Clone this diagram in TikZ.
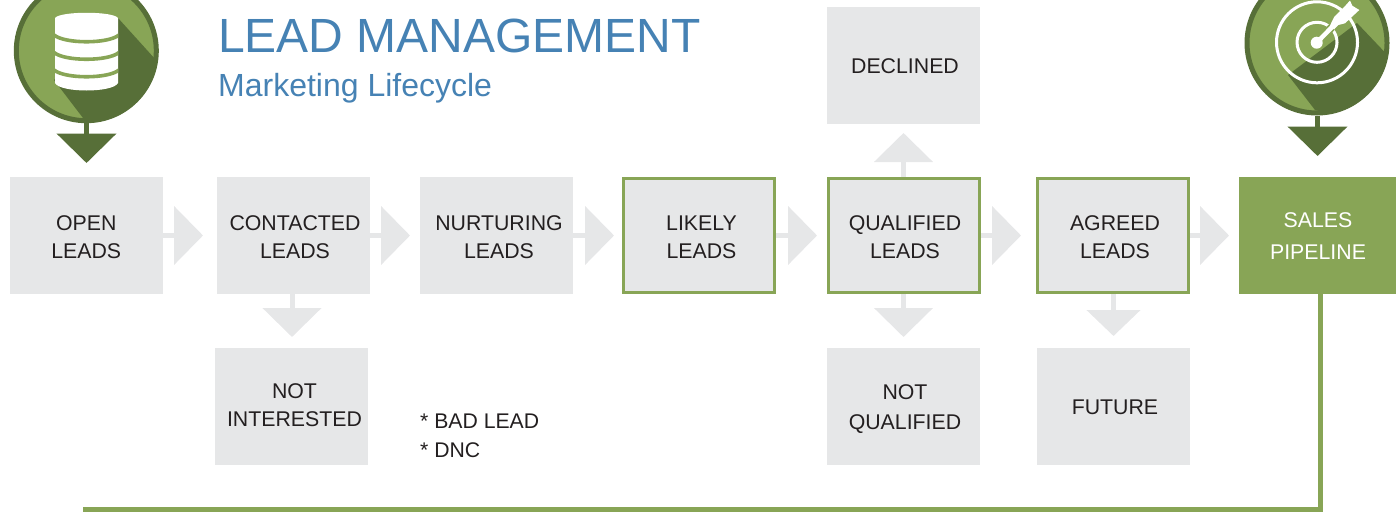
\documentclass[tikz,border=0pt]{standalone}
\usepackage{fontspec}
\setmainfont{Liberation Sans}
\usetikzlibrary{arrows.meta}
\definecolor{grn}{HTML}{88A556}
\definecolor{dgrn}{HTML}{576F38}
\definecolor{boxg}{HTML}{E6E7E8}
\definecolor{ink}{HTML}{231F20}
\definecolor{ttl}{HTML}{4682B4}
% #1 = horizontal shift of the text (doubled because the box is centred), #2 = raise, #3 = lines
\newcommand\lbl[3]{\raisebox{#2}[0pt][0pt]{\makebox[0pt]{\hspace*{#1}\hspace*{#1}\fontsize{21.3}{28}\selectfont\begin{tabular}{@{}c@{}}#3\end{tabular}}}}
\tikzset{
  leadbox/.style={rectangle,fill=boxg,text=ink,minimum width=153pt,minimum height=117pt,inner sep=0pt,outer sep=0pt},
  greenbox/.style={leadbox,draw=grn,line width=2.8pt,minimum width=151.2pt,minimum height=114.2pt,outer sep=1.4pt},
  salesbox/.style={leadbox,fill=grn,text=white},
  flowarrow/.style={draw=boxg,line width=5pt,-{Triangle[length=29pt,width=58pt,color=boxg]}},
  smallarrow/.style={draw=boxg,line width=5pt,-{Triangle[length=26pt,width=53pt,color=boxg]}},
  iconarrow/.style={draw=dgrn,line width=5pt,-{Triangle[length=29.5pt,width=59pt,color=dgrn]}},
  badge/.style={circle,draw=dgrn,fill=grn,line width=5pt,minimum size=140pt,inner sep=0pt,outer sep=2.5pt},
  pipeline/.style={draw=grn,line width=5pt,line join=miter},
  title/.style={text=ttl,anchor=base west,inner sep=0pt}
}
\begin{document}
\begin{tikzpicture}[x=1pt,y=-1pt]
\useasboundingbox (0,0) rectangle (1396,512);
% boxes
\node[leadbox] (open) at (86.5,235.5) {\lbl{-0.3pt}{-8.7pt}{OPEN\\LEADS}};
\node[leadbox] (contacted) at (293.5,235.5) {\lbl{1.5pt}{-8.7pt}{CONTACTED\\LEADS}};
\node[leadbox] (nurturing) at (496.5,235.5) {\lbl{2.5pt}{-8.7pt}{NURTURING\\LEADS}};
\node[greenbox] (likely) at (699.2,235.5) {\lbl{2.3pt}{-8.7pt}{LIKELY\\LEADS}};
\node[greenbox] (qualified) at (904,235.5) {\lbl{1pt}{-8.7pt}{QUALIFIED\\LEADS}};
\node[greenbox] (agreed) at (1113,235.5) {\lbl{2pt}{-8.7pt}{AGREED\\LEADS}};
\node[salesbox,minimum width=157pt] (sales) at (1317.5,235.5) {\lbl{0.5pt}{-7.8pt}{SALES\\[4pt]PIPELINE}};
\node[leadbox] (declined) at (903.5,65.5) {\lbl{1.5pt}{-8pt}{DECLINED\\}};
\node[leadbox] (notint) at (291.5,406.5) {\lbl{3pt}{-5.5pt}{NOT\\INTERESTED}};
\node[leadbox] (notqual) at (903.5,406.5) {\lbl{1.5pt}{-8pt}{NOT\\[2pt]QUALIFIED}};
\node[leadbox] (future) at (1113.5,406.5) {\lbl{1.5pt}{-8pt}{FUTURE\\}};
% free ends
\coordinate (t1) at (203,235.5);
\coordinate (t2) at (410,235.5);
\coordinate (t3) at (614,235.5);
\coordinate (t4) at (817,235.5);
\coordinate (t5) at (1021,235.5);
\coordinate (t6) at (1229,235.5);
\coordinate (t7) at (292,337);
\coordinate (t8) at (903.5,337);
\coordinate (t9) at (903.5,133);
\coordinate (t10) at (1113.5,336);
% connectors
\draw[flowarrow] (open.east) -- (t1);
\draw[flowarrow] (contacted.east) -- (t2);
\draw[flowarrow] (nurturing.east) -- (t3);
\draw[flowarrow] (likely.east) -- (t4);
\draw[flowarrow] (qualified.east) -- (t5);
\draw[flowarrow] (agreed.east) -- (t6);
\draw[flowarrow] (contacted.south -| t7) -- (t7);
\draw[flowarrow] (qualified.south -| t8) -- (t8);
\draw[flowarrow] (qualified.north -| t9) -- (t9);
\draw[smallarrow] (agreed.south -| t10) -- (t10);
\coordinate (pc) at (1320,509.5);
\coordinate (pe) at (83,509.5);
\draw[pipeline] (sales.south -| pc) -- (pc) -- (pe);
% title
\node[title,font=\fontsize{48}{48}\selectfont] (t) at (218,52.7) {LEAD MANAGEMENT};
\node[title,font=\fontsize{32}{32}\selectfont] (st) at (218,96) {Marketing Lifecycle};
\node[anchor=base west,inner sep=0pt,text=ink,align=left,font=\fontsize{21.2}{29}\selectfont] (notes) at (420,457) {* BAD LEAD\\* DNC};
% left badge
\node[badge] (dbicon) at (86.3,50.7) {};
\begin{scope}
\clip (86.3,50.7) circle (72pt);
\fill[dgrn] (118,18) -- (165,70) -- (165,140) -- (83,118) -- (54,80) -- cycle;
\end{scope}
\fill[white] (55,18) .. controls (60,11) and (113,11) .. (118,18) -- (118,83) .. controls (113,93) and (60,93) .. (55,83) -- cycle;
\begin{scope}
\clip (55,0) rectangle (118,100);
\foreach \yy in {35,52.5,70} \draw[grn,line width=3.6pt] (54,\yy) .. controls (65,\yy+9) and (108,\yy+9) .. (119,\yy);
\end{scope}
\coordinate (dbt) at (86.5,163);
\draw[iconarrow] (dbicon.south -| dbt) -- (dbt);
% right badge
\node[badge] (goalicon) at (1317,43) {};
\begin{scope}
\clip (1317,43) circle (72pt);
\fill[dgrn] (1357,23) -- (1395,63) -- (1395,130) -- (1315,110) -- (1288,75) -- cycle;
\end{scope}
\draw[white,line width=3pt] (1317,42.3) circle (40.5pt);
\draw[white,line width=3pt] (1317,42.3) circle (20pt);
\draw[grn,line width=8pt] (1322,37) -- (1343,16);
\fill[white] (1316.7,42.7) circle (6pt);
\draw[white,line width=4.5pt] (1316.7,42.7) -- (1335,24);
\fill[white] (1330,25.5) -- (1334.3,16.7) -- (1346,5) -- (1350,0.5) -- (1352.3,5.7) -- (1359.3,10) -- (1345,23.3) -- (1338.3,25) -- (1334,29.5) -- cycle;
\coordinate (gt) at (1317.5,156);
\draw[iconarrow] (goalicon.south -| gt) -- (gt);
\end{tikzpicture}
\end{document}
